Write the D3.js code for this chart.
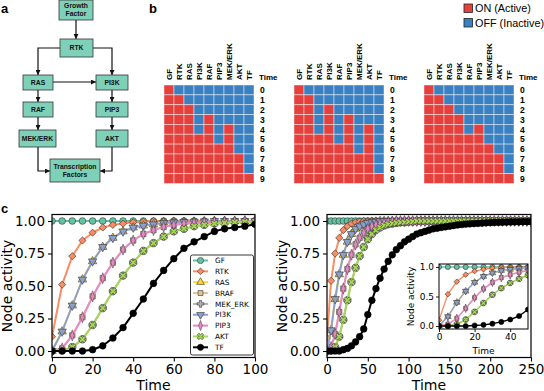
<!DOCTYPE html>
<html><head><meta charset="utf-8">
<script src="https://cdn.jsdelivr.net/npm/d3@7"></script>
<style>body{margin:0;background:#fff} svg{display:block}</style>
</head><body><svg id="fig" width="544" height="391"></svg>
<script>
// ---- panel b: time step at which each node switches ON ----
var hmCols = ["GF","RTK","RAS","PI3K","RAF","PIP3","MEK/ERK","AKT","TF"];
var hmSteps = [0,1,2,3,4,5,6,7,8,9];
var onsetA = [0,1,2,5,3,6,4,7,9];
var onsetB = [0,1,5,2,6,3,7,4,9];
var onsetC = [0,1,2,3,5,4,6,7,9];

// ---- panel c: node activity ----
var seriesNames = ["GF","RTK","RAS","BRAF","MEK_ERK","PI3K","PIP3","AKT","TF"];
var timeL = d3.range(0, 101, 5);
var gfL   = [1,1,1,1,1,1,1,1,1,1,1,1,1,1,1,1,1,1,1,1,1];
var rtkL  = [0.11,0.51,0.73,0.85,0.91,0.95,0.97,0.98,0.99,0.995,1,1,1,1,1,1,1,1,1,1,1];
var pi3kL = [0,0.15,0.35,0.55,0.69,0.80,0.87,0.92,0.95,0.965,0.975,0.985,0.99,0.993,0.995,0.997,1,1,1,1,1];
var pip3L = [0,0.02,0.12,0.26,0.42,0.56,0.68,0.78,0.85,0.90,0.93,0.955,0.97,0.98,0.985,0.99,0.993,0.995,0.997,1,1];
var aktL  = [0,0.005,0.03,0.09,0.20,0.33,0.46,0.58,0.68,0.77,0.83,0.88,0.92,0.94,0.96,0.97,0.98,0.985,0.99,0.993,0.995];
var tfL   = [0,0,0,0,0.01,0.04,0.10,0.18,0.29,0.40,0.52,0.62,0.71,0.79,0.84,0.88,0.92,0.94,0.95,0.96,0.975];
// RAS, BRAF and MEK_ERK lie exactly under PI3K, PIP3 and AKT
var rasL = pi3kL, brafL = pip3L, mekL = aktL;

var timeR = d3.range(0, 251, 5);
var gfR   = [1,1,1,1,1,1,1,1,1,1,1,1,1,1,1,1,1,1,1,1,1,1,1,1,1,1,1,1,1,1,1,1,1,1,1,1,1,1,1,1,1,1,1,1,1,1,1,1,1,1,1];
var rtkR  = [0.10,0.54,0.75,0.87,0.93,0.96,0.98,0.99,0.995,1,1,1,1,1,1,1,1,1,1,1,1,1,1,1,1,1,1,1,1,1,1,1,1,1,1,1,1,1,1,1,1,1,1,1,1,1,1,1,1,1,1];
var pi3kR = [0,0.16,0.40,0.59,0.74,0.84,0.90,0.94,0.96,0.975,0.985,0.99,0.995,1,1,1,1,1,1,1,1,1,1,1,1,1,1,1,1,1,1,1,1,1,1,1,1,1,1,1,1,1,1,1,1,1,1,1,1,1,1];
var pip3R = [0,0.03,0.13,0.30,0.48,0.63,0.74,0.82,0.87,0.91,0.94,0.96,0.97,0.98,0.985,0.99,0.995,1,1,1,1,1,1,1,1,1,1,1,1,1,1,1,1,1,1,1,1,1,1,1,1,1,1,1,1,1,1,1,1,1,1];
var aktR  = [0,0.005,0.03,0.11,0.24,0.39,0.53,0.64,0.73,0.80,0.86,0.90,0.93,0.95,0.965,0.975,0.98,0.985,0.99,0.99,0.995,0.995,1,1,1,1,1,1,1,1,1,1,1,1,1,1,1,1,1,1,1,1,1,1,1,1,1,1,1,1,1];
var tfR   = [0,0,0,0,0.01,0.02,0.04,0.07,0.11,0.17,0.28,0.39,0.48,0.56,0.63,0.69,0.74,0.78,0.81,0.84,0.86,0.88,0.90,0.91,0.92,0.93,0.94,0.945,0.95,0.955,0.96,0.965,0.97,0.973,0.976,0.978,0.98,0.982,0.984,0.986,0.988,0.989,0.99,0.991,0.992,0.993,0.994,0.994,0.995,0.995,0.996];
var rasR = pi3kR, brafR = pip3R, mekR = aktR;

var svg = d3.select("#fig");
var fontMpl = "DejaVu Sans";
var fontArial = "Liberation Sans, Arial";

// panel letters
svg.append("text").attr("x",1).attr("y",13).text("a")
  .attr("font-family",fontArial).attr("font-weight","bold").attr("font-size",13);
svg.append("text").attr("x",149).attr("y",13).text("b")
  .attr("font-family",fontArial).attr("font-weight","bold").attr("font-size",13);
svg.append("text").attr("x",1).attr("y",213).text("c")
  .attr("font-family",fontArial).attr("font-weight","bold").attr("font-size",13);

// ================= panel a =================
var boxes = [
  {id:"GF",  lines:["Growth","Factor"], x:59, y:0, w:34, h:20},
  {id:"RTK", lines:["RTK"], x:60, y:39, w:33, h:18},
  {id:"RAS", lines:["RAS"], x:23, y:75, w:30, h:15},
  {id:"PI3K",lines:["PI3K"], x:96, y:75, w:32, h:15},
  {id:"RAF", lines:["RAF"], x:23, y:102, w:30, h:15},
  {id:"PIP3",lines:["PIP3"], x:96, y:102, w:32, h:15},
  {id:"MEK", lines:["MEK/ERK"], x:19, y:130, w:37, h:17},
  {id:"AKT", lines:["AKT"], x:96, y:130, w:32, h:17},
  {id:"TFs", lines:["Transcription","Factors"], x:50, y:159, w:50, h:23}
];
var links = [
  [[76,20],[76,39]],
  [[60,48],[38,48],[38,75]],
  [[93,48],[112,48],[112,75]],
  [[53,82],[96,82]],
  [[38,90],[38,102]],
  [[38,117],[38,130]],
  [[112,90],[112,102]],
  [[112,117],[112,130]],
  [[38,147],[38,171],[50,171]],
  [[112,147],[112,171],[100,171]]
];
svg.append("defs").append("marker")
  .attr("id","arr").attr("viewBox","0 0 10 10").attr("refX",10).attr("refY",5)
  .attr("markerWidth",5).attr("markerHeight",5).attr("markerUnits","userSpaceOnUse")
  .attr("orient","auto")
  .append("path").attr("d","M0,0L10,5L0,10z").attr("fill","#111");
var ga = svg.append("g");
ga.selectAll("path.link").data(links).join("path")
  .attr("class","link")
  .attr("d", d => d3.line()(d))
  .attr("fill","none").attr("stroke","#111").attr("stroke-width",1.2)
  .attr("marker-end","url(#arr)");
var bx = ga.selectAll("g.box").data(boxes).join("g").attr("class","box");
bx.append("rect").attr("x",d=>d.x).attr("y",d=>d.y).attr("width",d=>d.w).attr("height",d=>d.h)
  .attr("fill","#7fd0b8").attr("stroke","#333").attr("stroke-width",0.8);
bx.each(function(d){
  var g = d3.select(this);
  var n = d.lines.length, lh = 8;
  d.lines.forEach(function(s,i){
    g.append("text").attr("x",d.x+d.w/2)
      .attr("y",d.y+d.h/2+(i-(n-1)/2)*lh+2.4)
      .attr("text-anchor","middle").attr("font-family",fontArial)
      .attr("font-weight","bold").attr("font-size",6.8).attr("fill","#111").text(s);
  });
});

// ================= panel b =================
function heatmap(x0, onset){
  var g = svg.append("g");
  var xb = d3.scaleBand().domain(hmCols).range([x0, x0+90]);
  var yb = d3.scaleBand().domain(hmSteps).range([85, 183.5]);
  var cells = [];
  hmSteps.forEach(function(t){
    hmCols.forEach(function(c,j){ cells.push({t:t, c:c, on: t >= onset[j]}); });
  });
  g.selectAll("rect").data(cells).join("rect")
    .attr("x",d=>xb(d.c)).attr("y",d=>yb(d.t))
    .attr("width",xb.bandwidth()).attr("height",yb.bandwidth())
    .attr("fill",d=>d.on ? "#e6403d" : "#3b80c1")
    .attr("stroke","rgba(255,255,255,0.55)").attr("stroke-width",0.8);
  g.selectAll("text.col").data(hmCols).join("text").attr("class","col")
    .attr("transform",d=>"translate("+(xb(d)+xb.bandwidth()/2+3)+",80) rotate(-90)")
    .attr("font-family",fontArial).attr("font-weight","bold").attr("font-size",8)
    .text(d=>d);
  g.append("text").attr("x",x0+95).attr("y",80).text("Time")
    .attr("font-family",fontArial).attr("font-weight","bold").attr("font-size",8);
  g.selectAll("text.row").data(hmSteps).join("text").attr("class","row")
    .attr("x",x0+96).attr("y",d=>yb(d)+yb.bandwidth()/2+3.2)
    .attr("font-family",fontArial).attr("font-weight","bold").attr("font-size",8.5)
    .text(d=>d);
}
heatmap(164, onsetA);
heatmap(294, onsetB);
heatmap(424, onsetC);

// ON / OFF legend
var lg = svg.append("g");
[["ON (Active)","#e6403d",4],["OFF (Inactive)","#3b80c1",18.5]].forEach(function(e){
  lg.append("rect").attr("x",464).attr("y",e[2]).attr("width",8.5).attr("height",8.5)
    .attr("fill",e[1]).attr("stroke","#222").attr("stroke-width",0.8);
  lg.append("text").attr("x",475).attr("y",e[2]+8.3).text(e[0])
    .attr("font-family",fontArial).attr("font-size",10.8);
});

// ================= panel c =================
var style = {
  GF:      {color:"#66c2a5", sym:"circle"},
  RTK:     {color:"#fc8d62", sym:"D"},
  RAS:     {color:"#ffd92f", sym:"^"},
  BRAF:    {color:"#e5c494", sym:"s"},
  MEK_ERK: {color:"#b3b3b3", sym:"P"},
  PI3K:    {color:"#8da0cb", sym:"v"},
  PIP3:    {color:"#e78ac3", sym:"d"},
  AKT:     {color:"#a6d854", sym:"X"},
  TF:      {color:"#000000", sym:"circle"}
};
function markerPath(sym, s){
  var k = s/6;
  switch(sym){
    case "circle": return {d:d3.symbol(d3.symbolCircle, 30*k*k)(), t:""};
    case "D": return {d:d3.symbol(d3.symbolSquare, 22*k*k)(), t:" rotate(45)"};
    case "^": return {d:d3.symbol(d3.symbolTriangle, 26*k*k)(), t:""};
    case "v": return {d:d3.symbol(d3.symbolTriangle, 26*k*k)(), t:" rotate(180)"};
    case "s": return {d:d3.symbol(d3.symbolSquare, 24*k*k)(), t:""};
    case "P": return {d:d3.symbol(d3.symbolCross, 26*k*k)(), t:""};
    case "X": return {d:d3.symbol(d3.symbolCross, 26*k*k)(), t:" rotate(45)"};
    case "d": return {d:d3.symbol(d3.symbolDiamond, 30*k*k)(), t:" scale(0.65,1)"};
  }
}

var clipN = 0;
function lineChart(o){
  var g = svg.append("g");
  var x = d3.scaleLinear().domain(o.xdom).range([o.x0, o.x1]);
  var y = d3.scaleLinear().domain([-0.05, 1.05]).range([o.y1, o.y0]);
  g.append("rect").attr("x",o.x0).attr("y",o.y0).attr("width",o.x1-o.x0).attr("height",o.y1-o.y0)
    .attr("fill","#fff");
  var id = "clip"+(clipN++);
  svg.select("defs").append("clipPath").attr("id",id).append("rect")
    .attr("x",o.x0).attr("y",o.y0).attr("width",o.x1-o.x0).attr("height",o.y1-o.y0);
  var plot = g.append("g").attr("clip-path","url(#"+id+")");
  var line = d3.line().x((d,i)=>x(o.time[i])).y(d=>y(d));
  seriesNames.forEach(function(name){
    var vals = o.data[name], st = style[name];
    plot.append("path").attr("d", line(vals)).attr("fill","none")
      .attr("stroke", st.color).attr("stroke-width", o.lw).attr("stroke-linejoin","round");
    var m = markerPath(st.sym, o.ms);
    plot.selectAll(null).data(vals).join("path")
      .attr("d", m.d)
      .attr("transform",(d,i)=>"translate("+x(o.time[i])+","+y(d)+")"+m.t)
      .attr("fill", st.color).attr("stroke", name==="TF" ? "#000" : "#333").attr("stroke-width",0.6);
  });
  var xa = g.append("g").attr("transform","translate(0,"+o.y1+")")
    .call(d3.axisBottom(x).tickValues(o.xticks).tickSize(o.tick).tickPadding(o.pad).tickFormat(d3.format("d")));
  var ya = g.append("g").attr("transform","translate("+o.x0+",0)")
    .call(d3.axisLeft(y).tickValues(o.yticks).tickSize(o.tick).tickPadding(o.pad).tickFormat(d3.format(o.yfmt)));
  [xa, ya].forEach(function(a){
    a.select(".domain").remove();
    a.selectAll("text").attr("font-family",fontMpl).attr("font-size",o.fs).attr("fill","#000");
    a.selectAll("line").attr("stroke","#000").attr("stroke-width",o.frame*0.9);
  });
  g.append("rect").attr("x",o.x0).attr("y",o.y0).attr("width",o.x1-o.x0).attr("height",o.y1-o.y0)
    .attr("fill","none").attr("stroke","#000").attr("stroke-width",o.frame);
  g.append("text").attr("x",(o.x0+o.x1)/2).attr("y",o.xlabY).attr("text-anchor","middle")
    .attr("font-family",fontMpl).attr("font-size",o.lfs).text("Time");
  g.append("text").attr("transform","translate("+o.ylabX+","+((o.y0+o.y1)/2)+") rotate(-90)")
    .attr("text-anchor","middle").attr("font-family",fontMpl).attr("font-size",o.lfs).text("Node activity");
  return g;
}

var dataL = {GF:gfL, RTK:rtkL, RAS:rasL, BRAF:brafL, MEK_ERK:mekL, PI3K:pi3kL, PIP3:pip3L, AKT:aktL, TF:tfL};
var dataR = {GF:gfR, RTK:rtkR, RAS:rasR, BRAF:brafR, MEK_ERK:mekR, PI3K:pi3kR, PIP3:pip3R, AKT:aktR, TF:tfR};

lineChart({x0:52, x1:255, y0:214.5, y1:357.5, xdom:[0,100], time:timeL, data:dataL,
  xticks:[0,20,40,60,80,100], yticks:[0,0.25,0.5,0.75,1], yfmt:".2f",
  fs:13.5, lfs:14, tick:4, pad:3, lw:2, ms:6.5, frame:1.2, xlabY:389.5, ylabX:12});
lineChart({x0:327, x1:531, y0:214.5, y1:357.5, xdom:[0,250], time:timeR, data:dataR,
  xticks:[0,50,100,150,200,250], yticks:[0,0.25,0.5,0.75,1], yfmt:".2f",
  fs:13.5, lfs:14, tick:4, pad:3, lw:2, ms:6.5, frame:1.2, xlabY:389.5, ylabX:287});
// inset: first 50 time units of the right run
var timeI = timeR.slice(0, 11);
var dataI = {};
seriesNames.forEach(function(n){ dataI[n] = dataR[n].slice(0, 11); });
lineChart({x0:439, x1:528, y0:264, y1:329, xdom:[0,50], time:timeI, data:dataI,
  xticks:[0,20,40], yticks:[0,0.5,1], yfmt:".1f",
  fs:9, lfs:9, tick:3, pad:2, lw:1.4, ms:5, frame:1, xlabY:354, ylabX:414});

// legend inside left plot
var leg = svg.append("g");
leg.append("rect").attr("x",190.5).attr("y",255).attr("width",63).attr("height",100).attr("rx",2)
  .attr("fill","#fff").attr("stroke","#222").attr("stroke-width",0.9);
seriesNames.forEach(function(name,i){
  var yy = 260.5 + i*10.85, st = style[name];
  leg.append("line").attr("x1",193).attr("x2",208).attr("y1",yy).attr("y2",yy)
    .attr("stroke",st.color).attr("stroke-width",2);
  var m = markerPath(st.sym, 6);
  leg.append("path").attr("d",m.d).attr("transform","translate(200.5,"+yy+")"+m.t)
    .attr("fill",st.color).attr("stroke",name==="TF"?"#000":"#333").attr("stroke-width",0.6);
  leg.append("text").attr("x",215).attr("y",yy+2.6).text(name)
    .attr("font-family",fontMpl).attr("font-size",7.3);
});
</script></body></html>
